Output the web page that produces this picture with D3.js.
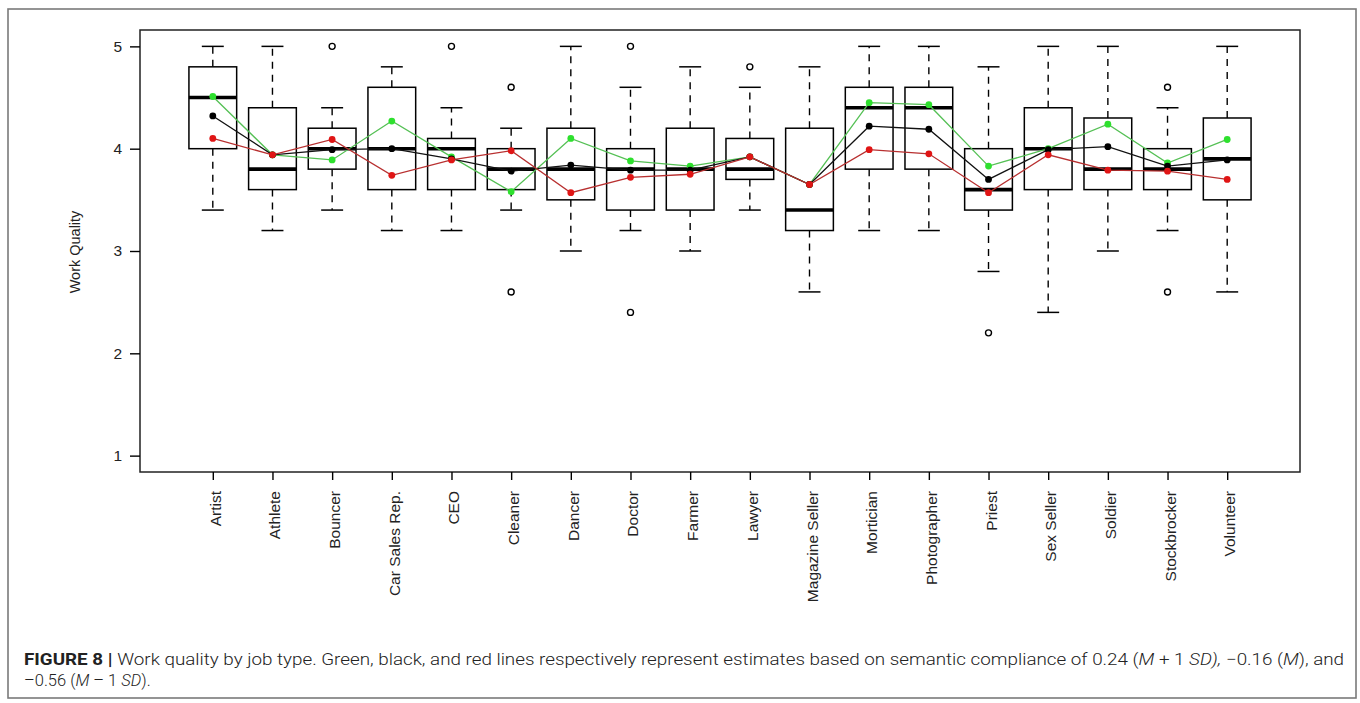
<!DOCTYPE html>
<html>
<head>
<meta charset="utf-8">
<script src="https://cdn.jsdelivr.net/npm/d3@7"></script>
<style>
  body { margin: 0; background: #fff; }
  svg { display: block; }
</style>
</head>
<body>
<div id="chart"></div>
<script>
const jobs = ["Artist", "Athlete", "Bouncer", "Car Sales Rep.", "CEO", "Cleaner", "Dancer", "Doctor", "Farmer",
  "Lawyer", "Magazine Seller", "Mortician", "Photographer", "Priest", "Sex Seller", "Soldier", "Stockbrocker", "Volunteer"];

// boxplot stats
const whiskHi = [5.0, 5.0, 4.4, 4.8, 4.4, 4.2, 5.0, 4.6, 4.8, 4.6, 4.8, 5.0, 5.0, 4.8, 5.0, 5.0, 4.4, 5.0];
const q3 = [4.8, 4.4, 4.2, 4.6, 4.1, 4.0, 4.2, 4.0, 4.2, 4.1, 4.2, 4.6, 4.6, 4.0, 4.4, 4.3, 4.0, 4.3];
const medians = [4.5, 3.8, 4.0, 4.0, 4.0, 3.8, 3.8, 3.8, 3.8, 3.8, 3.4, 4.4, 4.4, 3.6, 4.0, 3.8, 3.8, 3.9];
const q1 = [4.0, 3.6, 3.8, 3.6, 3.6, 3.6, 3.5, 3.4, 3.4, 3.7, 3.2, 3.8, 3.8, 3.4, 3.6, 3.6, 3.6, 3.5];
const whiskLo = [3.4, 3.2, 3.4, 3.2, 3.2, 3.4, 3.0, 3.2, 3.0, 3.4, 2.6, 3.2, 3.2, 2.8, 2.4, 3.0, 3.2, 2.6];
const outliers = [[], [], [5.0], [], [5.0], [4.6, 2.6], [], [5.0, 2.4], [], [4.8], [], [], [], [2.2], [], [], [4.6, 2.6], []];

// estimated lines (M + 1 SD, M, M - 1 SD)
const greenVals = [4.51, 3.94, 3.89, 4.27, 3.92, 3.58, 4.10, 3.88, 3.83, 3.92, 3.65, 4.45, 4.43, 3.83, 4.00, 4.24, 3.86, 4.09];
const blackVals = [4.32, 3.94, 3.99, 4.00, 3.90, 3.78, 3.84, 3.79, 3.79, 3.92, 3.65, 4.22, 4.19, 3.70, 3.99, 4.02, 3.83, 3.89];
const redVals = [4.10, 3.94, 4.09, 3.74, 3.89, 3.98, 3.57, 3.72, 3.75, 3.92, 3.65, 3.99, 3.95, 3.57, 3.94, 3.79, 3.78, 3.70];

const yTicks = [1, 2, 3, 4, 5];

const width = 1360;
const height = 703;
const plotLeft = 140, plotRight = 1300, plotTop = 30, plotBottom = 472;

const svg = d3.select("#chart")
  .append("svg")
  .attr("width", width)
  .attr("height", height)
  .attr("viewBox", [0, 0, width, height])
  .style("font-family", "Arial, 'Liberation Sans', sans-serif");

// outer figure frame
svg.append("rect")
  .attr("x", 8).attr("y", 9)
  .attr("width", 1348).attr("height", 689)
  .attr("fill", "none")
  .attr("stroke", "#7a7a7a")
  .attr("stroke-width", 1.6);

const x = d3.scalePoint()
  .domain(jobs)
  .range([plotLeft, plotRight])
  .padding(1.22);

const y = d3.scaleLinear()
  .domain([0.84, 5.16])
  .range([plotBottom, plotTop]);

const boxW = x.step() * 0.8;
const capW = boxW * 0.46;

const rows = jobs.map((j, i) => ({
  job: j, lo: whiskLo[i], q1: q1[i], med: medians[i], q3: q3[i], hi: whiskHi[i], out: outliers[i]
}));

const boxes = svg.append("g").attr("stroke", "#000").attr("fill", "none");

// whiskers
boxes.selectAll(".whisk")
  .data(rows)
  .join("g")
  .each(function(d) {
    const g = d3.select(this);
    const cx = x(d.job);
    g.append("line").attr("x1", cx).attr("x2", cx).attr("y1", y(d.q3)).attr("y2", y(d.hi))
      .attr("stroke-width", 1.4).attr("stroke-dasharray", "7,6");
    g.append("line").attr("x1", cx).attr("x2", cx).attr("y1", y(d.q1)).attr("y2", y(d.lo))
      .attr("stroke-width", 1.4).attr("stroke-dasharray", "7,6");
    g.append("line").attr("x1", cx - capW / 2).attr("x2", cx + capW / 2).attr("y1", y(d.hi)).attr("y2", y(d.hi))
      .attr("stroke-width", 1.5);
    g.append("line").attr("x1", cx - capW / 2).attr("x2", cx + capW / 2).attr("y1", y(d.lo)).attr("y2", y(d.lo))
      .attr("stroke-width", 1.5);
    g.append("rect")
      .attr("x", cx - boxW / 2).attr("y", y(d.q3))
      .attr("width", boxW).attr("height", y(d.q1) - y(d.q3))
      .attr("fill", "#fff").attr("stroke-width", 1.5);
    g.append("line").attr("x1", cx - boxW / 2).attr("x2", cx + boxW / 2).attr("y1", y(d.med)).attr("y2", y(d.med))
      .attr("stroke-width", 3.6);
    g.selectAll("circle")
      .data(d.out)
      .join("circle")
      .attr("cx", cx).attr("cy", v => y(v)).attr("r", 3)
      .attr("stroke-width", 1.4);
  });

// estimate lines with points
const series = [
  {vals: greenVals, line: "#55c055", dot: "#2ee02e"},
  {vals: blackVals, line: "#111", dot: "#000"},
  {vals: redVals, line: "#b83030", dot: "#e01515"}
];

const line = d3.line()
  .x((v, i) => x(jobs[i]))
  .y(v => y(v));

series.forEach(s => {
  svg.append("path")
    .attr("d", line(s.vals))
    .attr("fill", "none")
    .attr("stroke", s.line)
    .attr("stroke-width", 1.3);
  svg.append("g")
    .selectAll("circle")
    .data(s.vals)
    .join("circle")
    .attr("cx", (v, i) => x(jobs[i]))
    .attr("cy", v => y(v))
    .attr("r", 3.4)
    .attr("fill", s.dot);
});

// plot box
svg.append("rect")
  .attr("x", plotLeft).attr("y", plotTop)
  .attr("width", plotRight - plotLeft).attr("height", plotBottom - plotTop)
  .attr("fill", "none")
  .attr("stroke", "#222")
  .attr("stroke-width", 1.5);

// y axis
svg.append("g")
  .attr("transform", `translate(${plotLeft},0)`)
  .call(d3.axisLeft(y).tickValues(yTicks).tickFormat(d3.format("d")).tickSize(10).tickPadding(8))
  .call(g => g.select(".domain").remove())
  .call(g => g.selectAll("line").attr("stroke-width", 1.4))
  .call(g => g.selectAll("text").attr("font-size", 15.5).attr("fill", "#222").style("font-family", "Arial, 'Liberation Sans', sans-serif"));

// x axis with rotated labels
const xAxis = svg.append("g")
  .attr("transform", `translate(0,${plotBottom})`)
  .call(d3.axisBottom(x).tickSize(8).tickFormat(""))
  .call(g => g.select(".domain").remove())
  .call(g => g.selectAll("line").attr("stroke-width", 1.4));

svg.append("g")
  .selectAll("text")
  .data(jobs)
  .join("text")
  .attr("transform", d => `translate(${x(d) + 8},${plotBottom + 19}) rotate(-90)`)
  .attr("text-anchor", "end")
  .attr("font-size", 15.5)
  .attr("fill", "#222")
  .text(d => d);

svg.append("text")
  .attr("transform", `translate(80,252) rotate(-90)`)
  .attr("text-anchor", "middle")
  .attr("font-size", 14.5)
  .attr("fill", "#222")
  .text("Work Quality");

// caption
const cap = svg.append("g")
  .style("font-family", "'Liberation Sans Narrow', Roboto, 'Open Sans', sans-serif")
  .attr("font-size", 16.5)
  .attr("fill", "#222");

const line1 = cap.append("text")
  .attr("x", 24).attr("y", 665)
  .attr("textLength", 1320)
  .attr("lengthAdjust", "spacingAndGlyphs");
line1.append("tspan").attr("font-weight", "bold").text("FIGURE 8 | ");
line1.append("tspan").attr("font-weight", 300).text("Work quality by job type. Green, black, and red lines respectively represent estimates based on semantic compliance of 0.24 (");
line1.append("tspan").attr("font-style", "italic").attr("font-weight", 300).text("M");
line1.append("tspan").attr("font-weight", 300).text(" + 1 ");
line1.append("tspan").attr("font-style", "italic").attr("font-weight", 300).text("SD),");
line1.append("tspan").attr("font-weight", 300).text(" \u22120.16 (");
line1.append("tspan").attr("font-style", "italic").attr("font-weight", 300).text("M");
line1.append("tspan").attr("font-weight", 300).text("), and");

const line2 = cap.append("text")
  .attr("x", 24).attr("y", 686);
line2.append("tspan").attr("font-weight", 300).text("\u20130.56 (");
line2.append("tspan").attr("font-style", "italic").attr("font-weight", 300).text("M");
line2.append("tspan").attr("font-weight", 300).text(" \u2013 1 ");
line2.append("tspan").attr("font-style", "italic").attr("font-weight", 300).text("SD");
line2.append("tspan").attr("font-weight", 300).text(").");
</script>
</body>
</html>
